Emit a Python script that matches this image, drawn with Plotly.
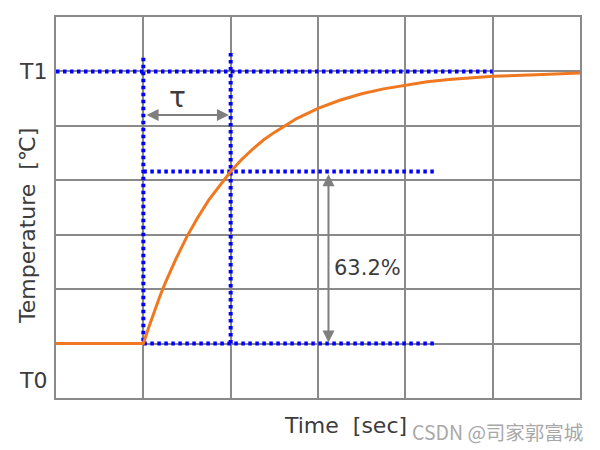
import plotly.graph_objects as go

# Step response (x in grid units, y in grid units)
time = [0, 0.5, 1.0, 1.0625, 1.125, 1.1875, 1.25, 1.3125, 1.375, 1.5, 1.625, 1.75, 1.875, 2.0, 2.125, 2.25, 2.375, 2.5, 2.75, 3.0, 3.25, 3.5, 3.75, 4.0, 4.25, 4.5, 4.75, 5.0, 5.5, 6.0]
temp = [1, 1, 1.0, 1.30, 1.59, 1.86, 2.11, 2.34, 2.56, 2.97, 3.32, 3.64, 3.91, 4.16, 4.38, 4.57, 4.74, 4.88, 5.13, 5.32, 5.47, 5.59, 5.68, 5.75, 5.81, 5.85, 5.88, 5.91, 5.94, 5.97]

t0_level = 1.0
t1_level = 6.0
level_632 = 4.16
tau_start = 1.0
tau_end = 2.0

y_labels = ["T0", "T1"]
y_label_pos = [0.33, 6.0]

x_title = "Time  [sec]"
y_title = "Temperature  [℃]"

GRID = "#8a8a8a"
BLUE = "#0000ff"
ORANGE = "#f07820"
ARROW = "#7f7f7f"
TXT = "#3c3c3c"
FONT = "DejaVu Sans"

# page body has an 8px margin, so the plot box is placed with that offset in mind
ML, MT, MR, MB = 48, 9, 28, 60
PW, PH = 600 - ML - MR, 450 - MT - MB


def px(xp):  # screenshot x pixel -> paper
    return (xp - 8 - ML) / PW


def py(yp):  # screenshot y pixel -> paper
    return (MT + PH - (yp - 8)) / PH


fig = go.Figure()

dot = dict(color=BLUE, width=4, dash="3.5px,3.5px")
# blue dotted guides
fig.add_trace(go.Scatter(x=[0, 5], y=[t1_level, t1_level], mode="lines", line=dot, hoverinfo="skip"))
fig.add_trace(go.Scatter(x=[tau_start, 4.36], y=[level_632, level_632], mode="lines", line=dot, hoverinfo="skip"))
fig.add_trace(go.Scatter(x=[tau_start, 4.36], y=[t0_level, t0_level], mode="lines", line=dot, hoverinfo="skip"))
fig.add_trace(go.Scatter(x=[tau_start, tau_start], y=[6.25, t0_level], mode="lines", line=dot, hoverinfo="skip"))
fig.add_trace(go.Scatter(x=[tau_end, tau_end], y=[6.34, t0_level], mode="lines", line=dot, hoverinfo="skip"))

# curve
fig.add_trace(go.Scatter(x=time, y=temp, mode="lines",
                         line=dict(color=ORANGE, width=3), hoverinfo="skip"))

annotations = []
# tau double arrow
annotations.append(dict(x=tau_end - 0.02, y=5.2, ax=tau_start + 0.02, ay=5.2, xref="x", yref="y", axref="x", ayref="y",
                        text="", showarrow=True, arrowhead=2, startarrowhead=2, arrowside="end+start",
                        arrowwidth=2, arrowsize=1.2, startarrowsize=1.2, arrowcolor=ARROW))
annotations.append(dict(x=1.39, y=5.52, xref="x", yref="y", text="τ", showarrow=False,
                        font=dict(family=FONT, size=28, color=TXT)))
# 63.2% double arrow
annotations.append(dict(x=3.12, y=t0_level + 0.02, ax=3.12, ay=level_632 - 0.02, xref="x", yref="y", axref="x", ayref="y",
                        text="", showarrow=True, arrowhead=2, startarrowhead=2, arrowside="end+start",
                        arrowwidth=2, arrowsize=1.2, startarrowsize=1.2, arrowcolor=ARROW))
annotations.append(dict(x=3.57, y=2.39, xref="x", yref="y", text="63.2%", showarrow=False,
                        font=dict(family=FONT, size=21, color=TXT)))
# T labels (paper coords, left of the plot)
for lab, pos in zip(y_labels, y_label_pos):
    annotations.append(dict(x=-7 / PW, y=pos / 7, xref="paper", yref="paper", xanchor="right", yanchor="middle",
                            text=lab, showarrow=False, font=dict(family=FONT, size=22, color=TXT)))
# axis titles
annotations.append(dict(x=px(345), y=py(425), xref="paper", yref="paper", xanchor="center", yanchor="middle",
                        text=x_title, showarrow=False, font=dict(family=FONT, size=22, color=TXT)))
annotations.append(dict(x=px(27), y=py(226), xref="paper", yref="paper", xanchor="center", yanchor="middle",
                        text=y_title, textangle=-90, showarrow=False, font=dict(family=FONT, size=22, color=TXT)))
# watermark
annotations.append(dict(x=px(497), y=py(431), xref="paper", yref="paper",
                        xanchor="center", yanchor="middle", text="CSDN @司家郭富城", showarrow=False,
                        font=dict(family="Noto Sans CJK SC", size=19.5, color="#a8a8a8")))

fig.update_layout(
    width=600, height=450,
    margin=dict(l=ML, r=MR, t=MT, b=MB, autoexpand=False),
    paper_bgcolor="white", plot_bgcolor="white",
    showlegend=False,
    annotations=annotations,
    xaxis=dict(range=[0, 6], dtick=1, tick0=0, showticklabels=False, ticks="", automargin=False,
               showgrid=True, gridcolor=GRID, gridwidth=2, zeroline=False,
               showline=True, linecolor=GRID, linewidth=2, mirror=True),
    yaxis=dict(range=[0, 7], dtick=1, tick0=0, showticklabels=False, ticks="", automargin=False,
               showgrid=True, gridcolor=GRID, gridwidth=2, zeroline=False,
               showline=True, linecolor=GRID, linewidth=2, mirror=True),
)

fig.write_html("out.html")
